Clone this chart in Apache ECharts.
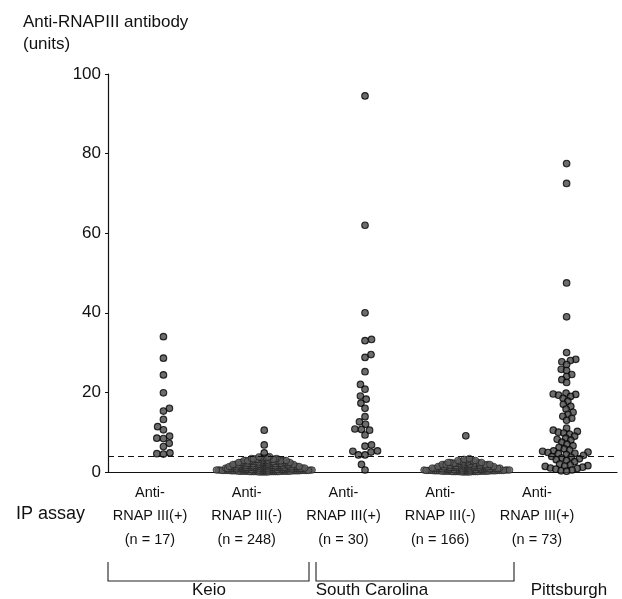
<!DOCTYPE html>
<html><head><meta charset="utf-8">
<script src="https://cdn.jsdelivr.net/npm/echarts@6/dist/echarts.min.js"></script>
<style>html,body{margin:0;padding:0;background:#fff}#c{width:622px;height:599px}</style>
</head><body><div id="c"></div>
<script>
// ---------- data ----------
const categories = ['Anti-\nRNAP III(+)\n(n = 17)', 'Anti-\nRNAP III(-)\n(n = 248)', 'Anti-\nRNAP III(+)\n(n = 30)', 'Anti-\nRNAP III(-)\n(n = 166)', 'Anti-\nRNAP III(+)\n(n = 73)'];
const groupNames = ['Keio', 'South Carolina', 'Pittsburgh'];
const yTicks = [0, 20, 40, 60, 80, 100];
const cutoff = 4;

const keioPos = [34, 28.6, 24.4, 19.9, 16, 15.3, 13.2, 11.4, 10.6, 9, 8.5, 8.4, 7.2, 6.4, 4.8, 4.6, 4.5];
const keioNeg = [
  0.1,0.2,0.0,0.3,0.1,0.2,0.3,0.0,0.2,0.1, 0.3,0.2,0.1,0.0,0.2,0.3,0.1,0.2,0.3,0.1,
  0.0,0.2,0.1,0.3,0.2,0.1,0.3,0.2,0.0,0.1, 0.2,0.3,0.1,0.2,0.0,0.3,0.2,0.1,
  0.4,0.5,0.6,0.7,0.5,0.4,0.6,0.5,0.7,0.4, 0.6,0.5,0.4,0.7,0.6,0.5,0.4,0.6,0.7,0.5,
  0.4,0.5,0.6,0.7,0.4,0.6,0.5,0.7,0.4,0.5, 0.6,0.4,0.7,0.5,0.6,0.4,0.5,
  0.8,0.9,1.0,1.1,0.9,0.8,1.0,0.9,1.1,0.8, 1.0,0.9,0.8,1.1,1.0,0.9,0.8,1.0,1.1,0.9,
  0.8,0.9,1.0,1.1,0.8,1.0,0.9,1.1,0.8,0.9, 1.0,0.8,1.1,0.9,1.0,
  1.2,1.3,1.4,1.5,1.3,1.2,1.4,1.3,1.5,1.2, 1.4,1.3,1.2,1.5,1.4,1.3,1.2,1.4,1.5,1.3,
  1.2,1.3,1.4,1.5,1.2,1.4,1.3,1.5,1.2,1.3, 1.4,1.2,
  1.6,1.7,1.8,1.9,1.7,1.6,1.8,1.7,1.9,1.6, 1.8,1.7,1.6,1.9,1.8,1.7,1.6,1.8,1.9,1.7,
  1.6,1.7,1.8,1.9,1.6,1.8,1.7,1.9,
  2.0,2.1,2.2,2.3,2.1,2.0,2.2,2.1,2.3,2.0, 2.2,2.1,2.0,2.3,2.2,2.1,2.0,2.2,2.3,2.1,
  2.0,2.1,2.2,2.3,
  2.4,2.5,2.6,2.7,2.5,2.4,2.6,2.5,2.7,2.4, 2.6,2.5,2.4,2.7,2.6,2.5,2.4,2.6,2.7,2.5,
  2.8,2.9,3.0,3.1,2.9,2.8,3.0,2.9,3.1,2.8, 3.0,2.9,2.8,3.1,3.0,2.9,
  3.2,3.3,3.4,3.5,3.3,3.2,3.4,3.3,3.5,3.2,
  3.6,3.7,3.8,3.9,3.7,
  4.8, 6.8, 10.5
];
const scPos = [94.5, 62, 40, 33.3, 33, 29.5, 28.8, 25.2, 22, 20.8, 19.1, 18.3, 17.3, 16, 13.9, 12.6, 12, 10.8, 10.7, 10.5, 9.3, 6.8, 6.5, 5.3, 5.2, 5, 4.3, 4.3, 1.9, 0.5];
const scNeg = [
  0.1,0.2,0.0,0.3,0.1,0.2,0.3,0.0,0.2,0.1, 0.3,0.2,0.1,0.0,0.2,0.3,0.1,0.2,0.3,0.1,
  0.0,0.2,0.1,0.3,0.2,0.1,0.3,0.2,0.0,0.1, 0.2,0.3,
  0.4,0.5,0.6,0.7,0.5,0.4,0.6,0.5,0.7,0.4, 0.6,0.5,0.4,0.7,0.6,0.5,0.4,0.6,0.7,0.5,
  0.4,0.5,0.6,0.7,0.4,0.6,0.5,0.7,0.4,0.5,
  0.8,0.9,1.0,1.1,0.9,0.8,1.0,0.9,1.1,0.8, 1.0,0.9,0.8,1.1,1.0,0.9,0.8,1.0,1.1,0.9,
  0.8,0.9,1.0,1.1,0.8,1.0,0.9,
  1.2,1.3,1.4,1.5,1.3,1.2,1.4,1.3,1.5,1.2, 1.4,1.3,1.2,1.5,1.4,1.3,1.2,1.4,1.5,1.3,
  1.2,1.3,1.4,1.5,
  1.6,1.7,1.8,1.9,1.7,1.6,1.8,1.7,1.9,1.6, 1.8,1.7,1.6,1.9,1.8,1.7,1.6,1.8,1.9,1.7,
  2.0,2.1,2.2,2.3,2.1,2.0,2.2,2.1,2.3,2.0, 2.2,2.1,2.0,2.3,2.2,
  2.4,2.5,2.6,2.7,2.5,2.4,2.6,2.5,2.7,2.4,
  2.8,2.9,3.0,3.1,2.9,
  3.2,3.4,
  9.1
];
const pittPos = [
  77.5, 72.5, 47.5, 39,
  30, 28.3, 28, 27.7, 27, 25.8, 25.5, 24.5, 24, 23.2, 22.5,
  19.8, 19.6, 19.5, 19.3, 19, 18.5, 17.8, 17, 16.5, 15.8, 15, 14.5, 14, 13.5, 13,
  11, 10.5, 10.2, 10, 9.8, 9.5, 9, 8.5, 8.2, 8, 7.5, 7, 6.6, 6.2,
  5.8, 5.5, 5.3, 5.2, 5.0, 4.9, 4.7, 4.6, 4.4, 4.2,
  3.9, 3.7, 3.5, 3.3, 3.1, 2.9, 2.6,
  2, 1.8, 1.6, 1.5, 1.4, 1.2, 1, 0.9, 0.7, 0.5, 0.3, 0.2
];
const groups = [keioPos, keioNeg, scPos, scNeg, pittPos];

// ---------- layout / style ----------
const FONT = '"Liberation Sans", Arial, Helvetica, sans-serif';
const swarmGap = [6.6, 1.85, 6.6, 2.0, 5.5];   // px collision distance per column
const sparseStyle = { color: '#474747', borderColor: '#000', borderWidth: 1.1 };
const denseStyle = { color: '#5e5e5e', borderColor: '#1c1c1c', borderWidth: 0.8 };
const isDense = [false, true, false, true, false];

const chart = echarts.init(document.getElementById('c'), null, { renderer: 'canvas' });

const baseOption = {
  animation: false,
  backgroundColor: '#fff',
  grid: [
    { left: 108, right: 5, top: 74, bottom: 127 },
    { left: 101.6, width: 483.75, top: 74, bottom: 127 }
  ],
  xAxis: [
    { type: 'value', gridIndex: 0, min: 0.45, max: 5.5,
      axisLine: { show: true, onZero: false, lineStyle: { color: '#111', width: 1.2 } },
      axisTick: { show: false }, axisLabel: { show: false }, splitLine: { show: false } },
    { type: 'category', gridIndex: 1, data: categories,
      axisLine: { show: false }, axisTick: { show: false }, splitLine: { show: false },
      axisLabel: { margin: 9, fontSize: 14.5, lineHeight: 23.5, color: '#111', fontFamily: FONT, interval: 0 } }
  ],
  yAxis: [
    { type: 'value', gridIndex: 0, min: yTicks[0], max: yTicks[yTicks.length - 1], interval: 20,
      axisLine: { show: true, lineStyle: { color: '#111', width: 1.2 } },
      axisTick: { show: true, length: 3, lineStyle: { color: '#111' } },
      axisLabel: { fontSize: 17, color: '#111', margin: 7, fontFamily: FONT },
      splitLine: { show: false } },
    { type: 'value', gridIndex: 1, show: false, min: 0, max: 100 }
  ],
  series: groups.map(() => ({
    type: 'scatter', xAxisIndex: 0, yAxisIndex: 0, data: [],
    symbol: 'circle', symbolSize: 6.6, itemStyle: sparseStyle
  }))
};
chart.setOption(baseOption);

// pixel scale from the library
const p11 = chart.convertToPixel({ xAxisIndex: 0, yAxisIndex: 0 }, [1, 0]);
const p22 = chart.convertToPixel({ xAxisIndex: 0, yAxisIndex: 0 }, [2, 1]);
const pxX = Math.abs(p22[0] - p11[0]);
const pxY = Math.abs(p11[1] - p22[1]);

function swarm(values, d) {
  const order = values.map((v, i) => i).sort((a, b) => values[a] - values[b]);
  const placed = [];
  const out = new Array(values.length);
  order.forEach((idx, k) => {
    const y = values[idx] * pxY;
    const near = placed.filter(p => Math.abs(p.y - y) < d);
    const cands = [0];
    near.forEach(p => {
      const w = Math.sqrt(d * d - (p.y - y) * (p.y - y));
      cands.push(p.x - w, p.x + w);
    });
    const ok = cands.filter(c => near.every(p => (p.x - c) * (p.x - c) + (p.y - y) * (p.y - y) >= d * d - 1e-6));
    ok.sort((a, b) => (Math.abs(a) - Math.abs(b)) || (k % 2 ? a - b : b - a));
    const x = ok[0];
    placed.push({ x, y });
    out[idx] = x / pxX;
  });
  return out;
}

const series = groups.map((vals, gi) => {
  const off = swarm(vals, swarmGap[gi]);
  return {
    type: 'scatter', xAxisIndex: 0, yAxisIndex: 0,
    data: vals.map((v, i) => ({
      value: [gi + 1 + off[i], v],
      itemStyle: (isDense[gi] && v < cutoff) ? denseStyle : sparseStyle
    })),
    symbol: 'circle', symbolSize: 6.6,
    markLine: gi === 0 ? {
      silent: true, symbol: 'none', label: { show: false },
      lineStyle: { type: [6, 4], color: '#111', width: 1.1 },
      data: [{ yAxis: cutoff }]
    } : undefined
  };
});

// brackets & group names (layout)
const bracketY0 = 562, bracketY1 = 581;
const brackets = [[108, 309], [316, 514]];
const graphic = [
  { type: 'text', left: 23, top: 11, style: { text: 'Anti-RNAPIII antibody\n(units)', fontSize: 17, lineHeight: 22, fill: '#111', fontFamily: FONT } },
  { type: 'text', left: 16, top: 505, style: { text: 'IP assay', fontSize: 18, fill: '#111', fontFamily: FONT } }
];
brackets.forEach(b => {
  graphic.push({ type: 'polyline', shape: { points: [[b[0], bracketY0], [b[0], bracketY1], [b[1], bracketY1], [b[1], bracketY0]] },
    style: { stroke: '#222', lineWidth: 1.1, fill: null } });
});
const nameCenters = [209, 372, 569];
groupNames.forEach((n, i) => {
  graphic.push({ type: 'text', x: nameCenters[i], y: 590, style: { text: n, fontSize: 17, fill: '#111', fontFamily: FONT, align: 'center', verticalAlign: 'middle' } });
});

chart.setOption({ series, graphic });
</script>
</body></html>
